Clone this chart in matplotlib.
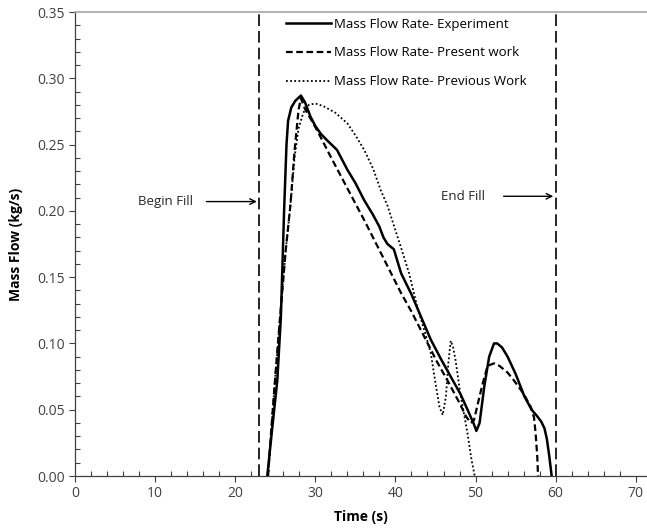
import numpy as np
import matplotlib
matplotlib.use('Agg')
import matplotlib.pyplot as plt
from matplotlib.ticker import MultipleLocator, FormatStrFormatter

plt.rcParams['font.family'] = ['Open Sans', 'DejaVu Sans']

# Mass flow rate - experiment (solid)
t_exp = [24.0, 24.6, 25.25, 25.7, 26.1, 26.4, 26.6, 27.0, 27.5, 28.2, 28.7, 29.4,
         30.0, 30.7, 31.5, 32.7, 34.0, 35.0, 36.1, 37.2, 38.0, 38.5, 39.0, 39.8,
         40.7, 42.0, 43.2, 44.4, 45.7, 46.8, 48.1, 49.0, 49.8, 50.1, 50.5, 51.1,
         51.7, 52.3, 52.7, 53.3, 54.0, 55.0, 56.1, 57.0, 57.7, 58.2, 58.6, 58.9,
         59.2, 59.5]
m_exp = [0.0, 0.035, 0.072, 0.12, 0.20, 0.25, 0.268, 0.278, 0.283, 0.287, 0.282, 0.271,
         0.264, 0.258, 0.253, 0.246, 0.231, 0.221, 0.208, 0.197, 0.188, 0.180, 0.175, 0.171,
         0.153, 0.137, 0.120, 0.103, 0.088, 0.076, 0.062, 0.050, 0.039, 0.034, 0.040, 0.068,
         0.090, 0.100, 0.100, 0.097, 0.090, 0.077, 0.060, 0.050, 0.045, 0.041, 0.036, 0.028,
         0.015, 0.0]

# Mass flow rate - present work (dashed)
t_pres = [24.1, 24.5, 25.0, 25.6, 26.3, 26.9, 27.4, 27.9, 28.2, 28.7, 30.2, 31.9,
          34.0, 36.1, 38.2, 40.7, 42.0, 43.6, 45.2, 46.5, 48.0, 48.8, 49.4, 49.8,
          50.3, 50.9, 51.5, 52.3, 53.0, 54.0, 54.8, 56.0, 56.9, 57.3, 57.5, 57.7,
          57.8]
m_pres = [0.0, 0.035, 0.075, 0.12, 0.17, 0.205, 0.245, 0.276, 0.285, 0.277, 0.261, 0.241,
          0.217, 0.193, 0.168, 0.138, 0.124, 0.105, 0.086, 0.072, 0.055, 0.045, 0.040, 0.042,
          0.055, 0.070, 0.083, 0.085, 0.083, 0.078, 0.072, 0.062, 0.052, 0.044, 0.032, 0.015,
          0.0]

# Mass flow rate - previous work (dotted)
t_prev = [24.1, 24.5, 25.0, 25.6, 26.3, 26.9, 27.4, 27.9, 28.5, 29.2, 30.0, 31.0,
          32.5, 34.0, 35.0, 36.1, 37.2, 38.2, 39.0, 40.5, 41.7, 42.7, 43.6, 44.4,
          45.0, 45.5, 45.9, 46.3, 46.6, 46.9, 47.2, 47.5, 48.1, 49.0, 49.5, 49.9]
m_prev = [0.0, 0.035, 0.075, 0.12, 0.17, 0.205, 0.240, 0.262, 0.274, 0.280, 0.281, 0.279,
          0.274, 0.266, 0.257, 0.246, 0.232, 0.215, 0.204, 0.176, 0.153, 0.128, 0.110, 0.093,
          0.070, 0.052, 0.046, 0.060, 0.085, 0.102, 0.097, 0.0875, 0.062, 0.032, 0.012, 0.0]

debut_remplissage = 23
fin_remplissage = 60

fig = plt.figure(figsize=(6.47, 5.30), dpi=100)
ax = fig.add_axes([75 / 647, 1 - 476 / 530, 572 / 647, 464 / 530])

ax.plot(t_exp, m_exp, color='black', lw=1.8, label='Mass Flow Rate- Experiment')
ax.plot(t_pres, m_pres, color='black', lw=1.6, linestyle=(0, (3, 1.6)),
        label='Mass Flow Rate- Present work')
ax.plot(t_prev, m_prev, color='black', lw=1.3, linestyle=(0, (1, 1.3)),
        label='Mass Flow Rate- Previous Work')

# Lignes début / fin de remplissage
for xv in (debut_remplissage, fin_remplissage):
    ax.axvline(xv, color='black', lw=1.2, linestyle=(0, (7, 3)))

ax.text(7.9, 0.207, 'Begin Fill', fontsize=9.5, va='center', ha='left', color='#262626')
ax.annotate('', xy=(22.7, 0.207), xytext=(16.4, 0.207),
            arrowprops=dict(arrowstyle='->', lw=1, color='black', shrinkA=0, shrinkB=0))
ax.text(45.7, 0.211, 'End Fill', fontsize=9.5, va='center', ha='left', color='#262626')
ax.annotate('', xy=(59.7, 0.211), xytext=(53.5, 0.211),
            arrowprops=dict(arrowstyle='->', lw=1, color='black', shrinkA=0, shrinkB=0))

ax.set_xlim(0, 71.4)
ax.set_ylim(0, 0.35)
ax.xaxis.set_major_locator(MultipleLocator(10))
ax.xaxis.set_minor_locator(MultipleLocator(2))
ax.yaxis.set_major_locator(MultipleLocator(0.05))
ax.yaxis.set_minor_locator(MultipleLocator(0.01))
ax.yaxis.set_major_formatter(FormatStrFormatter('%.2f'))

ax.tick_params(which='major', direction='out', length=4, width=0.8, color='#404040',
               labelsize=10, labelcolor='#404040')
ax.tick_params(which='minor', direction='in', length=3.5, width=0.8, color='#404040')

ax.spines['right'].set_visible(False)
ax.spines['top'].set_color('#a6a6a6')
ax.spines['top'].set_linewidth(1.2)
for s in ('left', 'bottom'):
    ax.spines[s].set_color('#404040')
    ax.spines[s].set_linewidth(0.9)

ax.set_xlabel('Time (s)', fontsize=10, fontweight='bold', labelpad=6)
ax.set_ylabel('Mass Flow (kg/s)', fontsize=10, fontweight='bold', labelpad=10)

ax.legend(loc='upper left', bbox_to_anchor=(283 / 647, 1 - 15 / 530),
          bbox_transform=fig.transFigure, frameon=False, fontsize=9.5,
          handlelength=3.4, handletextpad=0.3, labelspacing=1.2, borderpad=0.2,
          borderaxespad=0)

fig.savefig('out.png', dpi=100)
